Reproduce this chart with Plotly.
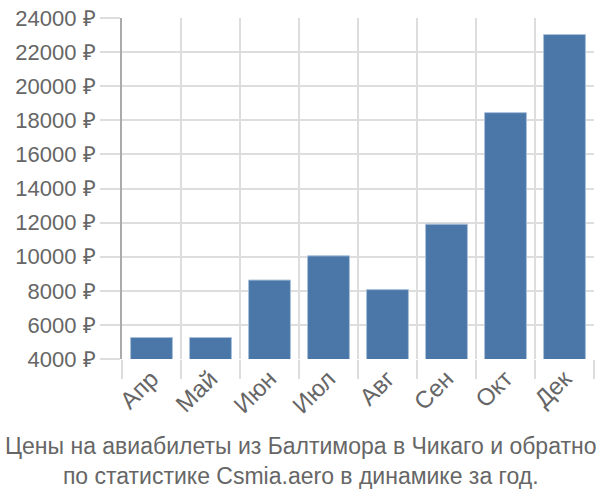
import plotly.graph_objects as go

months = ["Апр", "Май", "Июн", "Июл", "Авг", "Сен", "Окт", "Дек"]
prices = [5260, 5260, 8630, 10050, 8070, 11910, 18450, 23030]
y_ticks = list(range(4000, 24001, 2000))
title_lines = ["Цены на авиабилеты из Балтимора в Чикаго и обратно",
               "по статистике Csmia.aero в динамике за год."]

fig = go.Figure(go.Bar(
    x=months, y=prices,
    marker=dict(color="#4a77a8", line=dict(color="#a9c0da", width=1)),
))

fig.update_layout(
    width=600, height=500,
    margin=dict(l=122, r=6, t=15, b=141),
    paper_bgcolor="white", plot_bgcolor="white",
    bargap=0.29,
    showlegend=False,
    font=dict(family="Liberation Sans, Arial, sans-serif", color="#666666", size=21),
    xaxis=dict(
        type="category",
        tickson="boundaries",
        ticks="outside", ticklen=19, tickcolor="#dddddd", tickwidth=2,
        showgrid=True, gridcolor="#dddddd", gridwidth=2,
        tickangle=-45,
        tickfont=dict(size=24, color="#666666"),
        showline=False,
    ),
    yaxis=dict(
        range=[4000, 24000],
        tickvals=y_ticks,
        ticktext=[f"{v} ₽" for v in y_ticks],
        ticks="outside", ticklen=20, tickcolor="#dddddd", tickwidth=2,
        showgrid=True, gridcolor="#dddddd", gridwidth=2,
        zeroline=False,
        showline=True, linecolor="#aaaaaa", linewidth=2,
        tickfont=dict(size=22, color="#666666"),
    ),
    annotations=[dict(
        text="<br>".join(title_lines),
        x=0.5, y=0, xref="paper", yref="paper",
        xanchor="center", yanchor="top",
        xshift=-58, yshift=-72,
        showarrow=False,
        font=dict(size=23, color="#666666"),
    )],
)

fig.write_html("out.html")
